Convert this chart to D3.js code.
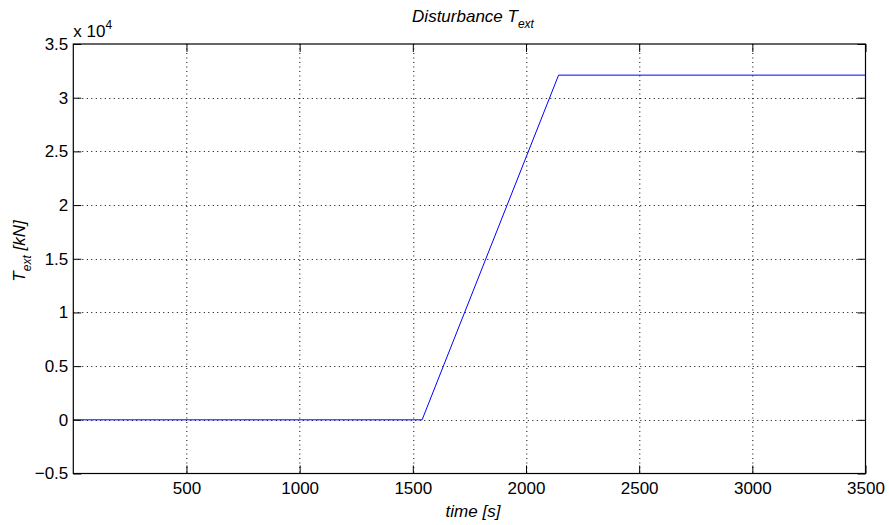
<!DOCTYPE html>
<html>
<head>
<meta charset="utf-8">
<script src="https://cdn.jsdelivr.net/npm/d3@7"></script>
<style>
  body { margin: 0; background: #fff; }
  svg { font-family: "Liberation Sans", Arial, Helvetica, sans-serif; }
  text { fill: #000; }
</style>
</head>
<body>
<svg id="chart" width="889" height="525"></svg>
<script>
// Disturbance torque profile: zero, linear ramp, then constant
const timeS = [0, 1541, 2144, 3500];
const torqueKN = [0, 0, 32100, 32100];
const xTicks = [500, 1000, 1500, 2000, 2500, 3000, 3500];
const yTicks = [-0.5, 0, 0.5, 1, 1.5, 2, 2.5, 3, 3.5];
const yTickLabels = ["\u22120.5", "0", "0.5", "1", "1.5", "2", "2.5", "3", "3.5"];
const yScaleFactor = 1e4;

const FS = 17;
const svg = d3.select("#chart");
const m = { left: 73.3, top: 44, right: 889 - 865.5, bottom: 525 - 473.5 };
const W = 889 - m.left - m.right, H = 525 - m.top - m.bottom;

const x = d3.scaleLinear().domain([0, 3500]).range([0, W]);
const y = d3.scaleLinear().domain([-0.5, 3.5]).range([H, 0]);

const g = svg.append("g").attr("transform", `translate(${m.left},${m.top})`);

// dotted grid
g.append("g").selectAll("line").data(xTicks.filter(t => t < 3500)).join("line")
  .attr("x1", d => Math.round(x(d)) + 0.5).attr("x2", d => Math.round(x(d)) + 0.5)
  .attr("y1", 0).attr("y2", H)
  .attr("stroke", "#000").attr("stroke-width", 1).attr("stroke-dasharray", "1,3.5");
g.append("g").selectAll("line").data(yTicks.filter(t => t > -0.5 && t < 3.5)).join("line")
  .attr("y1", d => Math.round(y(d)) + 0.5).attr("y2", d => Math.round(y(d)) + 0.5)
  .attr("x1", 0).attr("x2", W)
  .attr("stroke", "#000").attr("stroke-width", 1).attr("stroke-dasharray", "1,3.5");

// data line
const line = d3.line().x((d, i) => x(timeS[i])).y(d => y(d / yScaleFactor));
g.append("path").datum(torqueKN).attr("d", line)
  .attr("fill", "none").attr("stroke", "#0000ff").attr("stroke-width", 1);

// axes with inward ticks (bottom/left labelled, top/right plain)
const tickLen = 8;
const fmtY = d => yTickLabels[yTicks.indexOf(d)];
const axB = g.append("g").attr("transform", `translate(0,${H})`)
  .call(d3.axisBottom(x).tickValues(xTicks).tickSizeInner(-tickLen).tickSizeOuter(0).tickPadding(8).tickFormat(d3.format("d")));
const axL = g.append("g")
  .call(d3.axisLeft(y).tickValues(yTicks).tickSizeInner(-tickLen).tickSizeOuter(0).tickPadding(5).tickFormat(fmtY));
const axT = g.append("g")
  .call(d3.axisTop(x).tickValues(xTicks).tickSizeInner(-tickLen).tickSizeOuter(0).tickFormat(""));
const axR = g.append("g").attr("transform", `translate(${W},0)`)
  .call(d3.axisRight(y).tickValues(yTicks).tickSizeInner(-tickLen).tickSizeOuter(0).tickFormat(""));
[axB, axL, axT, axR].forEach(a => {
  a.selectAll(".domain").remove();
  a.selectAll("line").attr("stroke", "#000");
  a.selectAll("text").attr("font-size", FS).attr("font-family", "Liberation Sans, Arial, sans-serif");
});
axB.selectAll("text").attr("dy", "0.71em");

// box
g.append("rect").attr("x", 0).attr("y", 0).attr("width", W).attr("height", H)
  .attr("fill", "none").attr("stroke", "#000").attr("stroke-width", 1.2);

// exponent label
const ex = svg.append("text").attr("x", m.left).attr("y", 37).attr("font-size", FS);
ex.append("tspan").text("x 10");
ex.append("tspan").attr("font-size", 12).attr("dy", -8).text("4");

// title
const title = svg.append("text").attr("x", 473).attr("y", 22).attr("text-anchor", "middle")
  .attr("font-size", FS).attr("font-style", "italic");
title.append("tspan").text("Disturbance T");
title.append("tspan").attr("font-size", 12).attr("dy", 6).text("ext");

// x label
svg.append("text").attr("x", 473).attr("y", 517).attr("text-anchor", "middle")
  .attr("font-size", FS).attr("font-style", "italic").text("time [s]");

// y label
const yl = svg.append("text").attr("transform", `translate(25,251) rotate(-90)`)
  .attr("text-anchor", "middle").attr("font-size", FS).attr("font-style", "italic");
yl.append("tspan").text("T");
yl.append("tspan").attr("font-size", 12).attr("dy", 6).text("ext");
yl.append("tspan").attr("dy", -6).text(" [kN]");
</script>
</body>
</html>
